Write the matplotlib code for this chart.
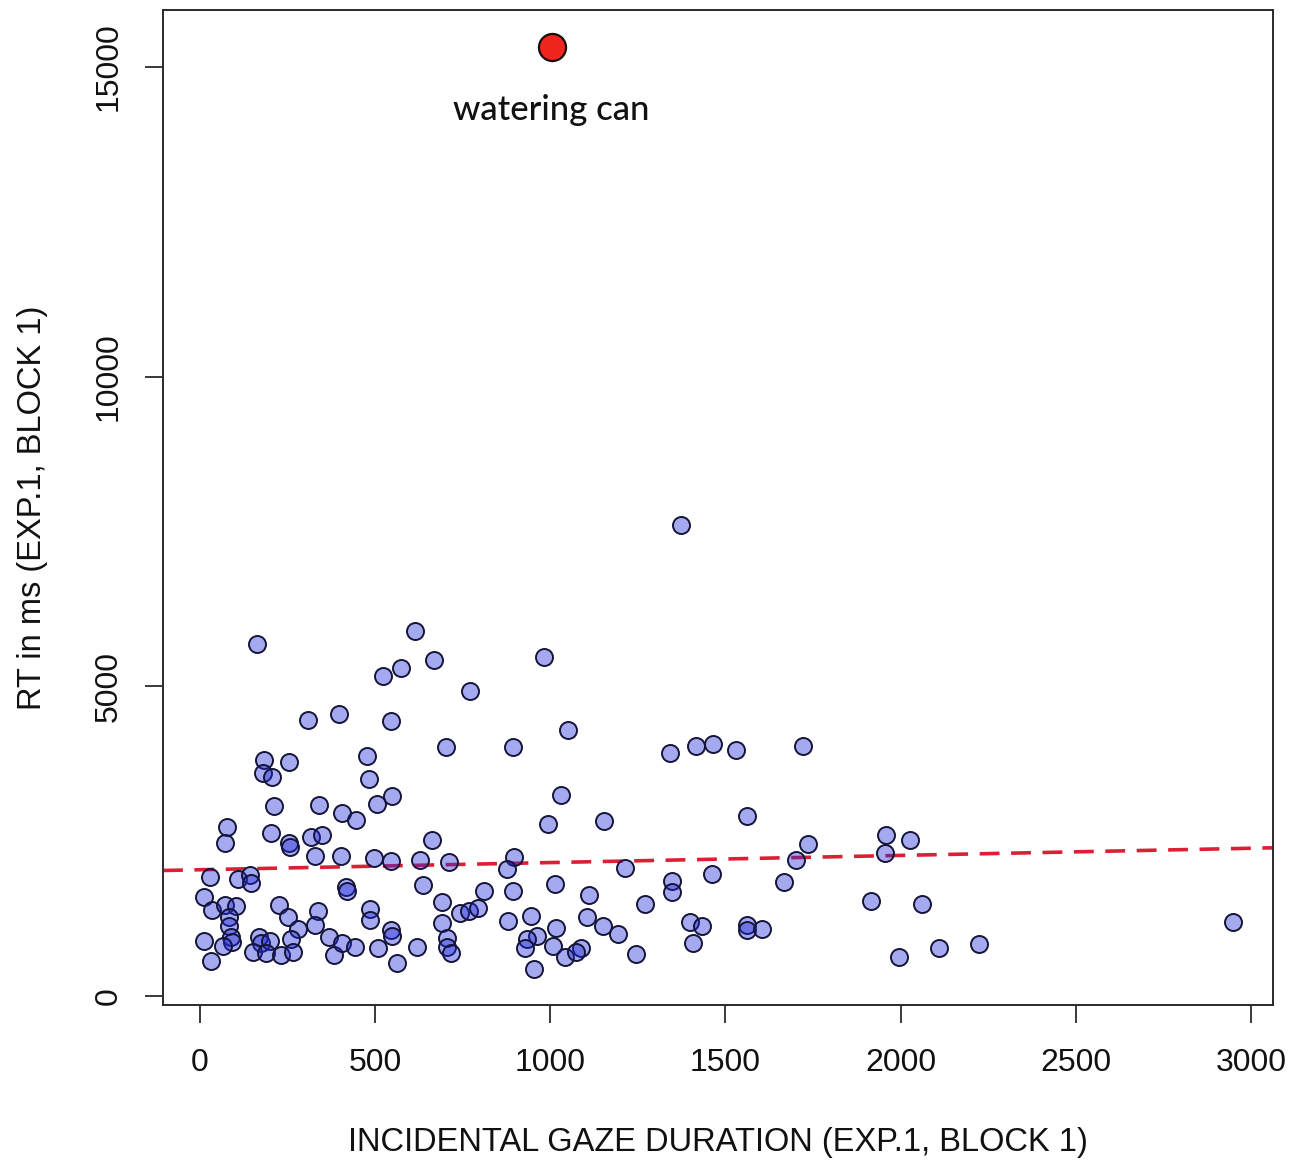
import matplotlib
matplotlib.use("Agg")
import matplotlib.pyplot as plt
from matplotlib import font_manager

names = {f.name for f in font_manager.fontManager.ttflist}
if 'Liberation Sans Narrow' in names:
    axis_font, axis_size = 'Liberation Sans Narrow', 28
else:
    axis_font, axis_size = 'Liberation Sans', 23.5

# ---- data ----
gaze = [162, 614, 668, 575, 522, 308, 397, 546, 704, 184, 254, 478, 180, 206, 483,
        982, 771, 1050, 894, 1342, 1417, 1465, 1530, 1721, 1373, 2950,
        212, 341, 405, 447, 507, 548, 78, 73, 203, 254, 257, 317, 350, 328, 403, 498, 547,
        29, 108, 143, 145, 417, 420, 12, 35, 71, 103, 83, 83, 89, 91, 226, 252, 281, 336,
        328, 487, 485, 545, 548, 11, 67, 168, 174, 200, 152, 190, 231, 260, 265, 369, 383,
        405, 443, 509, 562, 31,
        993, 663, 628, 710, 896, 876, 638, 811, 893, 1013, 1111, 692, 742, 768, 795, 691,
        881, 945, 1104, 706, 706, 716, 619, 1016, 961, 933, 928, 1009, 1042, 1087, 1075,
        954, 1030,
        1154, 1213, 1348, 1347, 1461, 1272, 1151, 1194, 1244, 1399, 1432, 1407, 1563,
        1735, 1701, 1668, 1958, 2027, 1955, 1916, 2062, 1561, 1561, 1606, 1995, 2111, 2224]
rt = [5684, 5898, 5421, 5296, 5162, 4452, 4558, 4440, 4016, 3811, 3774, 3870, 3596, 3541, 3504,
      5474, 4925, 4290, 4021, 3919, 4042, 4074, 3975, 4037, 7605, 1200,
      3068, 3084, 2960, 2837, 3095, 3229, 2724, 2475, 2627, 2470, 2406, 2563, 2600, 2261, 2261,
      2233, 2180, 1926, 1884, 1954, 1820, 1760, 1695, 1603, 1389, 1469, 1453, 1276, 1130, 953,
      872, 1469, 1280, 1082, 1377, 1146, 1400, 1227, 1066, 969, 893, 812, 948, 851, 888, 715,
      699, 662, 916, 715, 948, 662, 861, 796, 770, 528, 565,
      2772, 2519, 2196, 2169, 2240, 2046, 1787, 1691, 1691, 1813, 1631, 1513, 1345, 1377, 1416,
      1174, 1206, 1292, 1276, 932, 796, 689, 796, 1103, 974, 916, 770, 812, 635, 780, 715,
      441, 3246,
      2826, 2072, 1857, 1684, 1965, 1486, 1135, 1001, 678, 1200, 1130, 851, 2902,
      2454, 2196, 1846, 2600, 2519, 2304, 1534, 1481, 1146, 1066, 1087, 635, 770, 840]

outlier_gaze = [1004]
outlier_rt = [15328]
outlier_label = "watering can"

fit_intercept = 2039
fit_slope = 0.1157

x_ticks = [0, 500, 1000, 1500, 2000, 2500, 3000]
y_ticks = [0, 5000, 10000, 15000]
x_label = "INCIDENTAL GAZE DURATION (EXP.1, BLOCK 1)"
y_label = "RT in ms (EXP.1, BLOCK 1)"

# ---- figure ----
W, H = 1303, 1163
fig = plt.figure(figsize=(W / 100, H / 100), dpi=100)
ax = fig.add_axes([163 / W, 1 - 1005 / H, (1273 - 163) / W, (1005 - 10) / H])

ax.scatter(gaze, rt, s=150, facecolors=[(0.12, 0.16, 0.86, 0.40)],
           edgecolors='#15153a', linewidths=1.4, zorder=3)
ax.scatter(outlier_gaze, outlier_rt, s=380, facecolors='#f0261e',
           edgecolors='#1a0a0a', linewidths=1.6, zorder=4)
ax.text(outlier_gaze[0], 14300, outlier_label, ha='center', va='center',
        fontsize=25, family=['Lato', 'DejaVu Sans'], fontweight='medium', color='#111111')

ax.axline((0, fit_intercept), slope=fit_slope, color='#dc1f35', lw=2.6,
          dashes=(5.5, 3.2), zorder=2)

ax.set_xlim(-105, 3063)
ax.set_ylim(-145, 15921)
ax.set_xticks(x_ticks)
ax.set_yticks(y_ticks)
ax.set_xticklabels([str(v) for v in x_ticks])
ax.set_yticklabels([str(v) for v in y_ticks], rotation=90, va='center')

for sp in ax.spines.values():
    sp.set_linewidth(1.4)
    sp.set_color('#2a2a2a')

ax.tick_params(axis='both', direction='out', length=13, width=1.3, color='#2a2a2a',
               labelsize=axis_size - 0.5, labelcolor='#111111')
ax.tick_params(axis='x', pad=18)
ax.tick_params(axis='y', pad=15)
for lab in ax.get_xticklabels() + ax.get_yticklabels():
    lab.set_family([axis_font, 'DejaVu Sans'])

ax.set_xlabel(x_label, fontsize=axis_size, family=[axis_font, 'DejaVu Sans'], color='#111111')
ax.set_ylabel(y_label, fontsize=axis_size, family=[axis_font, 'DejaVu Sans'], color='#111111')
ax.xaxis.set_label_coords(0.5, -(1143 - 1005) / 995)
ax.xaxis.label.set_va('center')
ax.yaxis.set_label_coords((33 - 163) / 1110, 0.5)
ax.yaxis.label.set_va('center')

fig.savefig("out.png", dpi=100)
